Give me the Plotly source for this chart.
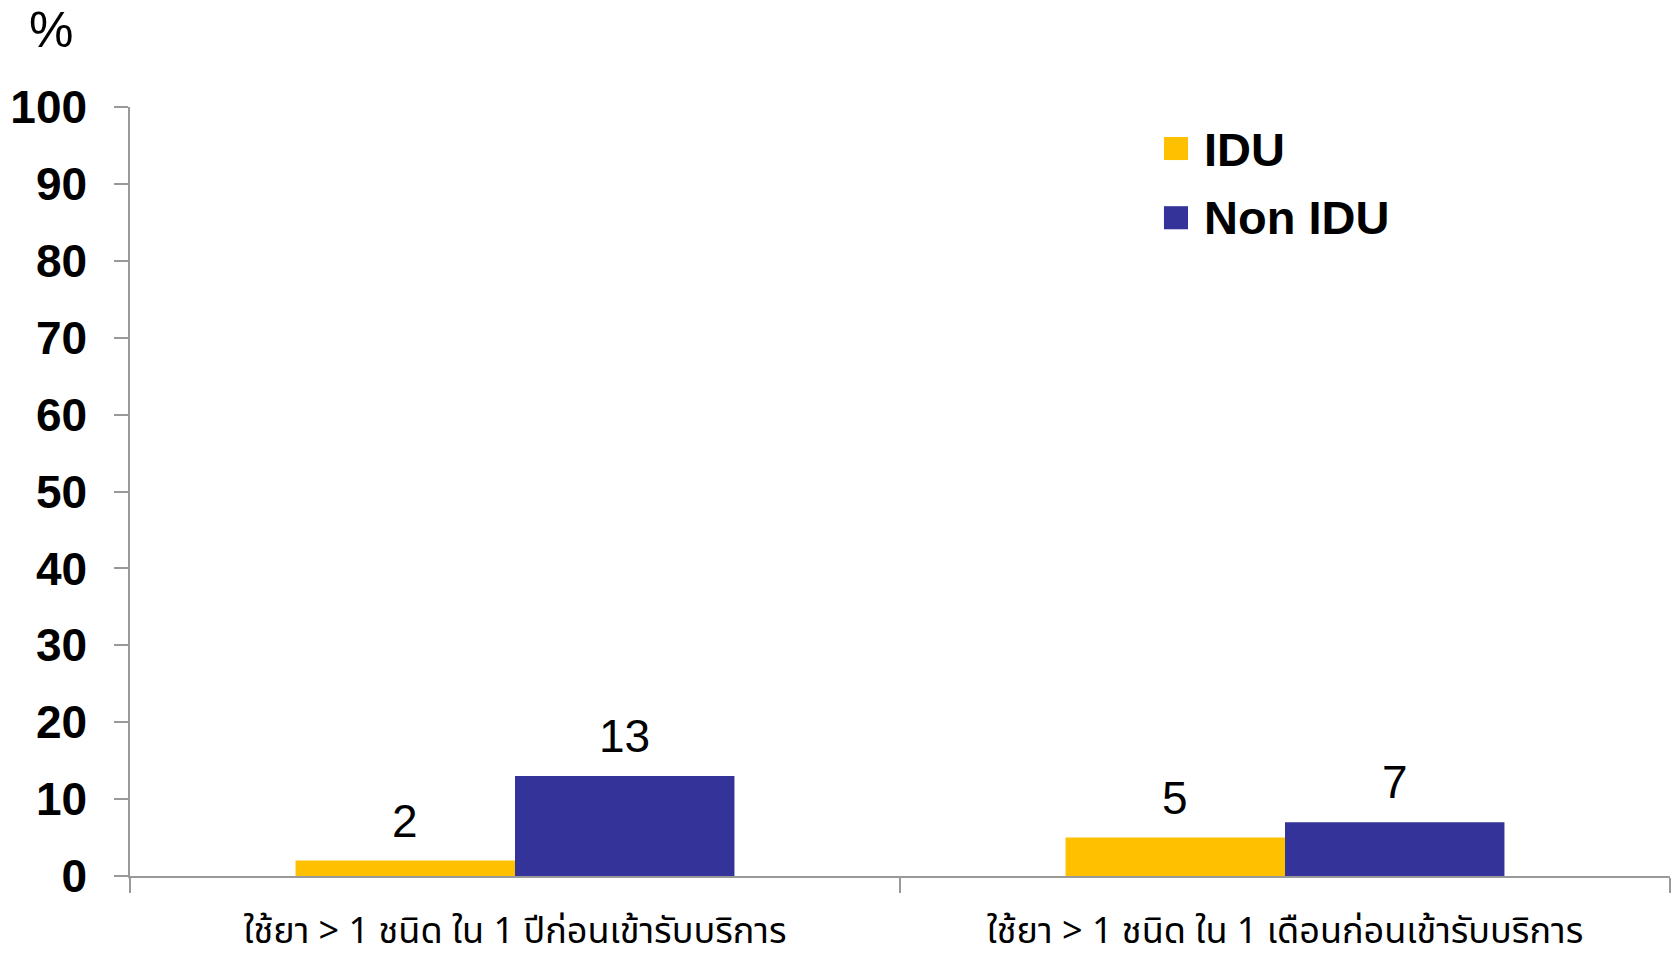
import plotly.graph_objects as go

categories = ["ใช้ยา > 1 ชนิด ใน 1 ปีก่อนเข้ารับบริการ", "ใช้ยา > 1 ชนิด ใน 1 เดือนก่อนเข้ารับบริการ"]
idu_values = [2, 5]
non_idu_values = [13, 7]
series_names = ["IDU", "Non IDU"]
colors = ["#FFC000", "#333399"]

W, H = 1673, 963
ML, MR, MT, MB = 130, 3, 107, 87
BARGAP = 0.43
plot_w = W - ML - MR
bar_px = plot_w / len(categories) * (1 - BARGAP) / 2

fig = go.Figure()
for i, (name, vals, col) in enumerate(zip(series_names, [idu_values, non_idu_values], colors)):
    fig.add_trace(go.Bar(
        x=categories, y=vals, name=name, marker=dict(color=col, line=dict(width=0)),
        showlegend=False,
    ))
    shift = (i - 0.5) * bar_px
    for c, v in zip(categories, vals):
        fig.add_annotation(x=c, y=v, xref="x", yref="y", text=str(v), showarrow=False,
                           xanchor="center", yanchor="bottom", xshift=shift, yshift=12,
                           font=dict(family="Liberation Sans, Arial", size=46, color="black"))

# manual legend
leg_y = [(0.961, 0.931, 0.945), (0.871, 0.841, 0.856)]
for (y1, y0, yc), name, col in zip(leg_y, series_names, colors):
    fig.add_shape(type="rect", xref="paper", yref="paper", x0=0.6714, x1=0.687, y0=y0, y1=y1,
                  fillcolor=col, line=dict(width=0))
    fig.add_annotation(text=name, x=0.696, y=yc, xref="paper", yref="paper", showarrow=False,
                       xanchor="left", yanchor="middle",
                       font=dict(family="Liberation Sans, Arial", size=47, color="black", weight="bold"))

fig.add_annotation(text="%", x=-0.0513, y=1.10, xref="paper", yref="paper", showarrow=False,
                   xanchor="center", yanchor="middle",
                   font=dict(family="Liberation Sans, Arial", size=50, color="black"))

fig.update_layout(
    width=W, height=H,
    margin=dict(l=ML, r=MR, t=MT, b=MB, autoexpand=False),
    paper_bgcolor="white", plot_bgcolor="white",
    barmode="group", bargap=BARGAP, bargroupgap=0,
    showlegend=False,
)
fig.update_yaxes(range=[0, 100], dtick=10, showgrid=False, zeroline=False, automargin=False,
                 showline=True, linecolor="#999999", linewidth=1.5,
                 ticks="outside", ticklen=14, tickcolor="#999999", tickwidth=1.5,
                 ticklabelstandoff=18,
                 tickfont=dict(family="Liberation Sans, Arial", size=46, color="black", weight="bold"))
fig.update_xaxes(showgrid=False, showline=True, linecolor="#999999", linewidth=1.5, automargin=False,
                 ticks="outside", ticklen=15, tickcolor="#999999", tickwidth=1.5,
                 tickson="boundaries", ticklabelstandoff=22,
                 tickfont=dict(family="Noto Sans Thai, DejaVu Sans, sans-serif", size=36, color="black"))

fig.write_html("out.html", config={"displayModeBar": False},
               post_script="document.body.style.margin='0';document.body.style.padding='0';")
